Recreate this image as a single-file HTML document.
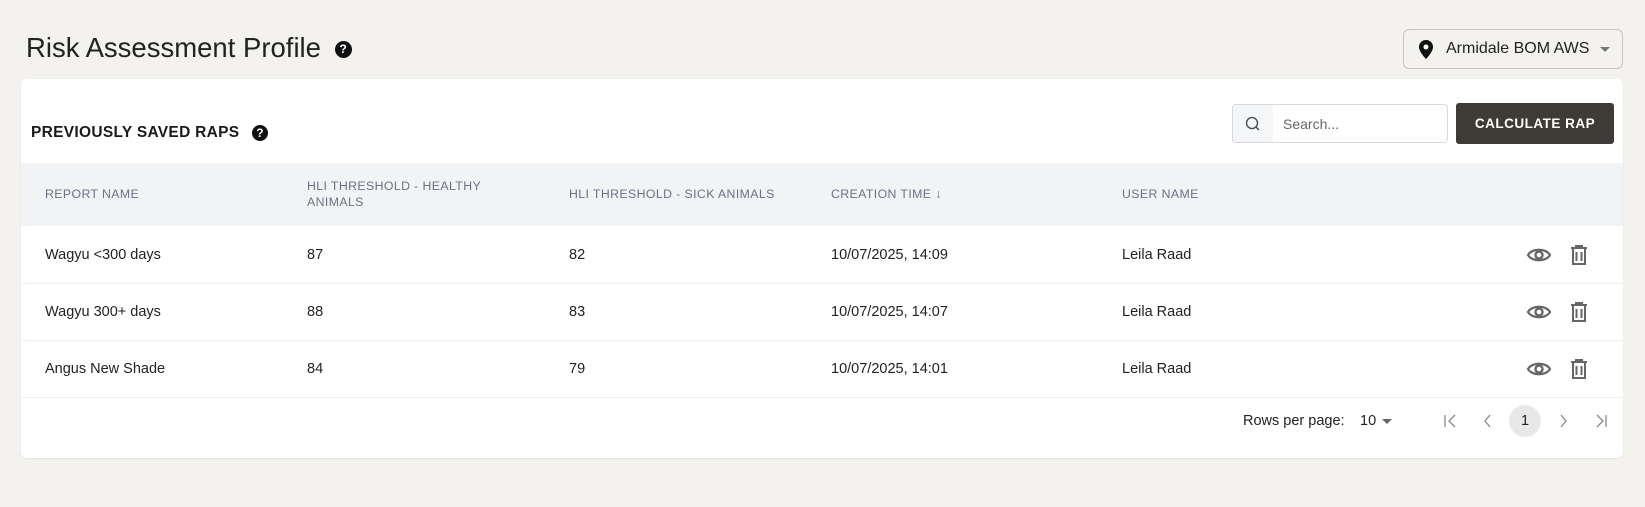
<!DOCTYPE html>
<html><head><style>
*{box-sizing:border-box;margin:0;padding:0}
body{width:1645px;height:507px;background:#f3f2ef;font-family:"Liberation Sans",sans-serif;color:#222;position:relative;overflow:hidden}
.a{position:absolute;white-space:nowrap}
.title{left:26px;top:32px;font-size:27.5px;color:#222}
.q{display:inline-block;width:16px;height:16px;border-radius:50%;background:#111;color:#fff;font-size:12px;font-weight:bold;text-align:center;line-height:16px;vertical-align:middle}
.loc{left:1403px;top:29px;width:220px;height:40px;border:1px solid #c8c6c0;border-radius:6px;font-size:16px;color:#222}
.card{left:21px;top:79px;width:1602px;height:379px;background:#fff;border-radius:6px;box-shadow:0 1px 2px rgba(0,0,0,.06)}
.hdr{left:21px;top:163px;width:1602px;height:63px;background:#f2f3f5}
.th{font-size:12.3px;color:#6b7280;letter-spacing:.4px;line-height:16px}
.td{font-size:14.5px;color:#222}
.line{left:21px;width:1602px;height:1px;background:#eceef0}
</style></head><body>
<div class="a title">Risk Assessment Profile <span class="q" style="width:17px;height:17px;margin-left:6px">?</span></div>
<div class="a loc">
<svg class="a" style="left:15px;top:10px" width="14" height="19" viewBox="0 0 14 19"><path d="M7 0C3 0 0 3 0 7c0 5 7 12 7 12s7-7 7-12c0-4-3-7-7-7z" fill="#111"/><circle cx="7" cy="7" r="2.5" fill="#fff"/></svg>
<span class="a" style="left:42px;top:10px">Armidale BOM AWS</span>
<span class="a" style="left:196px;top:17px;width:0;height:0;border-left:5px solid transparent;border-right:5px solid transparent;border-top:5px solid #777"></span>
</div>
<div class="a card"></div>
<div class="a" style="left:31px;top:124px;font-size:15.5px;font-weight:bold;color:#1a1a1a;letter-spacing:.3px">PREVIOUSLY SAVED RAPS <span class="q" style="margin-left:8px">?</span></div>
<div class="a" style="left:1232px;top:104px;width:216px;height:39px;border:1px solid #d8dadd;border-radius:4px;overflow:hidden">
<div class="a" style="left:0;top:0;width:40px;height:39px;background:#f5f6f8"></div>
<svg class="a" style="left:12px;top:11px" width="16" height="16" viewBox="0 0 16 16"><circle cx="7" cy="7" r="5.5" fill="none" stroke="#444" stroke-width="1.3"/><path d="M11 11l3 3" stroke="#444" stroke-width="1.3"/></svg>
<span class="a" style="left:50px;top:11px;font-size:14px;color:#666">Search...</span>
</div>
<div class="a" style="left:1456px;top:103px;width:158px;height:41px;background:#3e3a35;border-radius:3px;color:#fff;font-size:13.5px;font-weight:bold;text-align:center;line-height:41px;letter-spacing:.5px">CALCULATE RAP</div>
<div class="a hdr"></div>
<div class="a th" style="left:45px;top:186px">REPORT NAME</div>
<div class="a th" style="left:307px;top:178px">HLI THRESHOLD - HEALTHY<br>ANIMALS</div>
<div class="a th" style="left:569px;top:186px">HLI THRESHOLD - SICK ANIMALS</div>
<div class="a th" style="left:831px;top:186px">CREATION TIME ↓</div>
<div class="a th" style="left:1122px;top:186px">USER NAME</div>

<div class="a line" style="top:283px"></div>
<div class="a line" style="top:340px"></div>
<div class="a line" style="top:397px"></div>

<div class="a td" style="left:45px;top:247px">Wagyu &lt;300 days</div>
<div class="a td" style="left:307px;top:247px">87</div>
<div class="a td" style="left:569px;top:247px">82</div>
<div class="a td" style="left:831px;top:247px">10/07/2025, 14:09</div>
<div class="a td" style="left:1122px;top:247px">Leila Raad</div>

<div class="a td" style="left:45px;top:304px">Wagyu 300+ days</div>
<div class="a td" style="left:307px;top:304px">88</div>
<div class="a td" style="left:569px;top:304px">83</div>
<div class="a td" style="left:831px;top:304px">10/07/2025, 14:07</div>
<div class="a td" style="left:1122px;top:304px">Leila Raad</div>

<div class="a td" style="left:45px;top:361px">Angus New Shade</div>
<div class="a td" style="left:307px;top:361px">84</div>
<div class="a td" style="left:569px;top:361px">79</div>
<div class="a td" style="left:831px;top:361px">10/07/2025, 14:01</div>
<div class="a td" style="left:1122px;top:361px">Leila Raad</div>

<svg class="a" style="left:0;top:0" width="1645" height="507">
<defs>
<g id="eye"><path d="M-11 0C-7-7 7-7 11 0C7 7-7 7-11 0Z" fill="none" stroke="#666" stroke-width="2.2"/><circle r="3.5" fill="none" stroke="#666" stroke-width="2.4"/></g>
<g id="tr"><path d="M-8-7h16M-3-7v-2h6v2M-6-7v16h12v-16M-2.5-3v9M2.5-3v9" fill="none" stroke="#666" stroke-width="2"/></g>
</defs>
<use href="#eye" x="1539" y="255"/><use href="#tr" x="1579" y="255"/>
<use href="#eye" x="1539" y="312"/><use href="#tr" x="1579" y="312"/>
<use href="#eye" x="1539" y="369"/><use href="#tr" x="1579" y="369"/>
<path d="M1445 415v12M1455 415l-6 6 6 6" fill="none" stroke="#888" stroke-width="1.3"/>
<path d="M1490 415l-5 6 5 6" fill="none" stroke="#888" stroke-width="1.3"/>
<circle cx="1525" cy="421" r="16" fill="#e8e8e8"/>
<path d="M1561 415l5 6-5 6" fill="none" stroke="#888" stroke-width="1.3"/>
<path d="M1597 415l6 6-6 6M1606 415v12" fill="none" stroke="#888" stroke-width="1.3"/>
<path d="M1382 419h10l-5 5z" fill="#666"/>
</svg>
<div class="a td" style="left:1243px;top:413px">Rows per page:</div>
<div class="a td" style="left:1360px;top:413px">10</div>
<div class="a td" style="left:1521px;top:413px">1</div>
</body></html>
